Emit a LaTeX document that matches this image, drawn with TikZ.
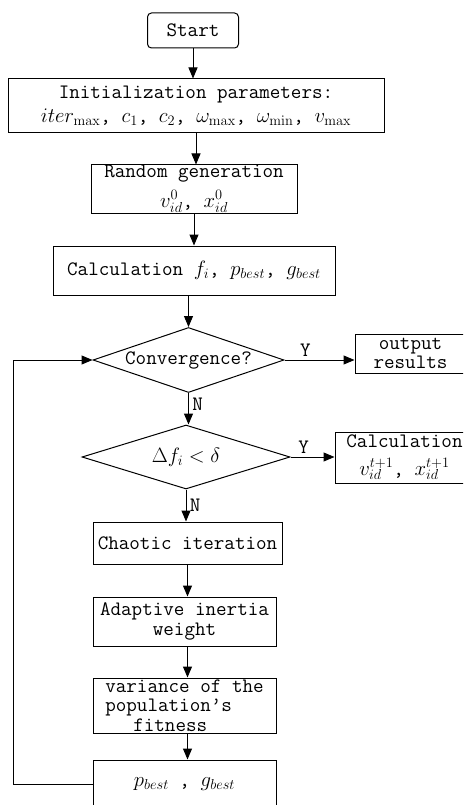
\documentclass[tikz,border=0pt]{standalone}
\usetikzlibrary{shapes.geometric,arrows.meta}

\begin{document}
\begin{tikzpicture}[x=1pt,y=-1pt,
    font=\ttfamily\fontsize{20.5}{19.5}\selectfont, line width=1pt,
    box/.style={draw,inner sep=0pt,align=center},
    ask/.style={draw,diamond,inner sep=0pt},
    arr/.style={-{Triangle[length=11pt,width=9pt]}}]
  \useasboundingbox (0,0) rectangle (463,805);
  \clip (0,0) rectangle (463,805);
  \draw
    (193,30.5) node[box,rounded corners=4pt,minimum width=91pt,minimum height=35pt] (start){Start}
    (196,106) node[box,minimum width=376pt,minimum height=54pt] (init){Initialization parameters:\\[4pt]$iter_{\max}$, $c_1$, $c_2$, $\omega_{\max}$, $\omega_{\min}$, $v_{\max}$}
    (194,189) node[box,minimum width=206pt,minimum height=48pt] (rand){Random generation\\[7pt]$v_{id}^{0}$, $x_{id}^{0}$}
    (194,270.5) node[box,minimum width=282pt,minimum height=49pt] (calc){Calculation $f_i$, $p_{best}$, $g_{best}$}
    (188.5,360) node[ask,aspect=2.94,minimum width=191pt,minimum height=65pt] (conv){Convergence?}
    (410.5,353.5) node[box,minimum width=111pt,minimum height=39pt] (out){output\\results}
    (186,457) node[ask,aspect=3.25,minimum width=208pt,minimum height=64pt] (delta){$\Delta f_i<\delta$}
    (404.5,457.5) node[box,minimum width=139pt,minimum height=51pt] (calc2){Calculation\\[8pt]$v_{id}^{t+1}$, $x_{id}^{t+1}$}
    (187.5,543) node[box,minimum width=189pt,minimum height=42pt] (chaos){Chaotic iteration}
    (184.5,621.5) node[box,minimum width=183pt,minimum height=49pt] (adapt){Adaptive inertia\\weight}
    (184.5,705.5) node[box,align=left,minimum width=183pt,minimum height=55pt] (var){variance of the\\population’s\\\hspace*{28pt}fitness}
    (184.5,784) node[box,minimum width=183pt,minimum height=48pt] (pbest){$p_{best}$ , $g_{best}$};
  \coordinate (back) at (13,784);
  \begin{scope}[arr]
    \draw (start.south) -- (start.south |- init.north);
    \draw (init.south) -- (init.south |- rand.north);
    \draw (rand.south) -- (rand.south |- calc.north);
    \draw (conv.north |- calc.south) -- (conv.north);
    \draw (conv.east) -- node[above,pos=0.3]{Y} (conv.east -| out.west);
    \draw (conv.south) -- node[right,pos=0.35]{N} (conv.south |- delta.north);
    \draw (delta.east) -- node[above,pos=0.3]{Y} (delta.east -| calc2.west);
    \draw (delta.south) -- node[right,pos=0.5]{N} (delta.south |- chaos.north);
    \draw (chaos.south) -- (chaos.south |- adapt.north);
    \draw (adapt.south -| chaos.south) -- (var.north -| chaos.south);
    \draw (var.south -| chaos.south) -- (pbest.north -| chaos.south);
    \draw (pbest.west) -- (back) |- (conv.west);
  \end{scope}
\end{tikzpicture}
\end{document}
